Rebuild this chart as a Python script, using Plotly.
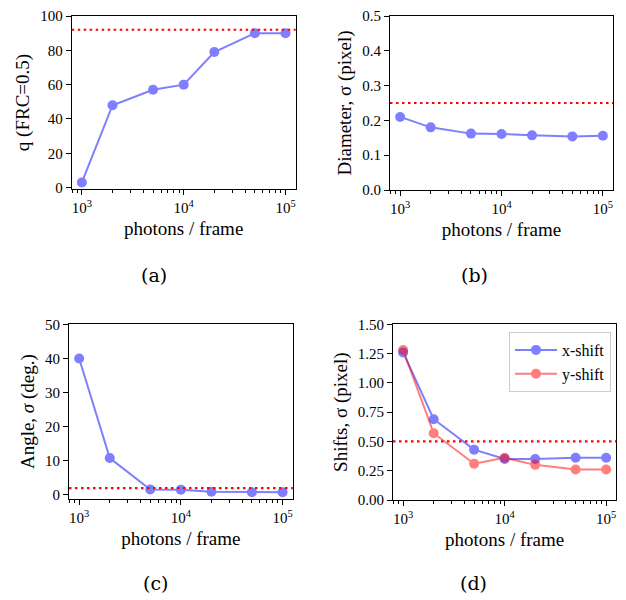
import plotly.graph_objects as go

photons = [1000, 2000, 5000, 10000, 20000, 50000, 100000]
q_frc = [3, 48, 57, 60, 79, 90, 90]
diameter_sigma = [0.21, 0.18, 0.162, 0.161, 0.157, 0.154, 0.156]
angle_sigma = [40, 10.8, 1.6, 1.5, 0.9, 0.8, 0.8]
xshift_sigma = [1.26, 0.69, 0.43, 0.35, 0.35, 0.36, 0.36]
yshift_sigma = [1.28, 0.57, 0.31, 0.36, 0.30, 0.26, 0.26]
thresholds = [92, 0.25, 2, 0.5]
panel_labels = ["(a)", "(b)", "(c)", "(d)"]
y_titles = ["q (FRC=0.5)", "Diameter, σ (pixel)", "Angle, <i>σ</i> (deg.)", "Shifts, σ (pixel)"]
x_title = "photons / frame"
major_ticks = [1000, 10000, 100000]
major_text = ["10<sup>3</sup>", "10<sup>4</sup>", "10<sup>5</sup>"]
minor_ticks = [m * 10 ** k for k in (2, 3, 4) for m in range(2, 10)]

BLUE = "rgb(0,0,255)"
RED = "rgb(255,0,0)"
FONT = "Liberation Serif, Times New Roman, Times, serif"

# page body has an 8px margin; paper is the visible area minus it
OFF = 8
W, H = 626 - OFF, 600 - OFF

def dom(x0, x1, y0, y1):
    return ([(x0 - OFF) / W, (x1 - OFF) / W], [1 - (y1 - OFF) / H, 1 - (y0 - OFF) / H])

domains = [
    dom(71.7, 295.7, 16, 189),
    dom(390, 613, 16, 190),
    dom(69, 292.7, 324.3, 499),
    dom(393, 616.3, 324.3, 500),
]
yranges = [[-0.8, 100], [0, 0.5], [-1.2, 50], [0, 1.5]]
ytick_cfg = [
    dict(tick0=0, dtick=20),
    dict(tick0=0, dtick=0.1, tickformat=".1f"),
    dict(tick0=0, dtick=10),
    dict(tick0=0, dtick=0.25, tickformat=".2f"),
]

fig = go.Figure()

def add_series(idx, y, color, name, showlegend):
    xa = "x" if idx == 0 else f"x{idx+1}"
    ya = "y" if idx == 0 else f"y{idx+1}"
    fig.add_trace(go.Scatter(
        x=photons, y=y, mode="lines+markers", name=name,
        line=dict(color=color, width=2),
        marker=dict(color=color, size=10),
        opacity=0.5, xaxis=xa, yaxis=ya, showlegend=showlegend,
    ))

add_series(0, q_frc, BLUE, "q", False)
add_series(1, diameter_sigma, BLUE, "d", False)
add_series(2, angle_sigma, BLUE, "a", False)
add_series(3, xshift_sigma, BLUE, "x-shift", True)
add_series(3, yshift_sigma, RED, "y-shift", True)

layout = dict(
    width=W, height=H,
    margin=dict(l=0, r=0, t=0, b=0, autoexpand=False),
    paper_bgcolor="white", plot_bgcolor="white",
    font=dict(family=FONT, size=15, color="black"),
    legend=dict(x=(509 - OFF) / W, y=1 - (332 - OFF) / H, xanchor="left", yanchor="top",
                bgcolor="rgba(255,255,255,0.8)", bordercolor="#cccccc", borderwidth=1,
                font=dict(family=FONT, size=16), tracegroupgap=0, itemwidth=42),
    shapes=[], annotations=[],
)

for i in range(4):
    sx = "" if i == 0 else str(i + 1)
    xd, yd = domains[i]
    layout[f"xaxis{sx}"] = dict(
        domain=xd, anchor=f"y{sx}", type="log", range=[2.9, 5.1],
        tickmode="array", tickvals=major_ticks, ticktext=major_text,
        ticks="outside", ticklen=5, tickwidth=1, tickcolor="black",
        minor=dict(ticks="outside", ticklen=3, tickwidth=1, tickcolor="black",
                   tickmode="array", tickvals=minor_ticks),
        showline=True, linecolor="black", linewidth=1, mirror=True,
        showgrid=False, zeroline=False, automargin=False,
        title=dict(text=x_title, font=dict(family=FONT, size=19), standoff=6),
        tickfont=dict(family=FONT, size=15),
    )
    layout[f"yaxis{sx}"] = dict(
        domain=yd, anchor=f"x{sx}", range=yranges[i],
        tickmode="linear", **ytick_cfg[i],
        ticks="outside", ticklen=5, tickwidth=1, tickcolor="black",
        showline=True, linecolor="black", linewidth=1, mirror=True,
        showgrid=False, zeroline=False, automargin=False,
        title=dict(text=y_titles[i], font=dict(family=FONT, size=19), standoff=5),
        tickfont=dict(family=FONT, size=15),
    )
    layout["shapes"].append(dict(
        type="line", xref=f"x{sx} domain", yref=f"y{sx}",
        x0=0, x1=1, y0=thresholds[i], y1=thresholds[i],
        line=dict(color=RED, width=2.2, dash="2.5px,3.5px"), layer="above",
    ))

label_px = [(154, 275), (474, 275), (155, 583), (473, 583)]
for lab, (px, py) in zip(panel_labels, label_px):
    layout["annotations"].append(dict(
        text=lab, x=(px - OFF) / W, y=1 - (py - OFF) / H, xref="paper", yref="paper",
        showarrow=False, xanchor="center", yanchor="middle",
        font=dict(family="DejaVu Serif", size=19, color="black"),
    ))

fig.update_layout(**layout)
fig.write_html("out.html")
